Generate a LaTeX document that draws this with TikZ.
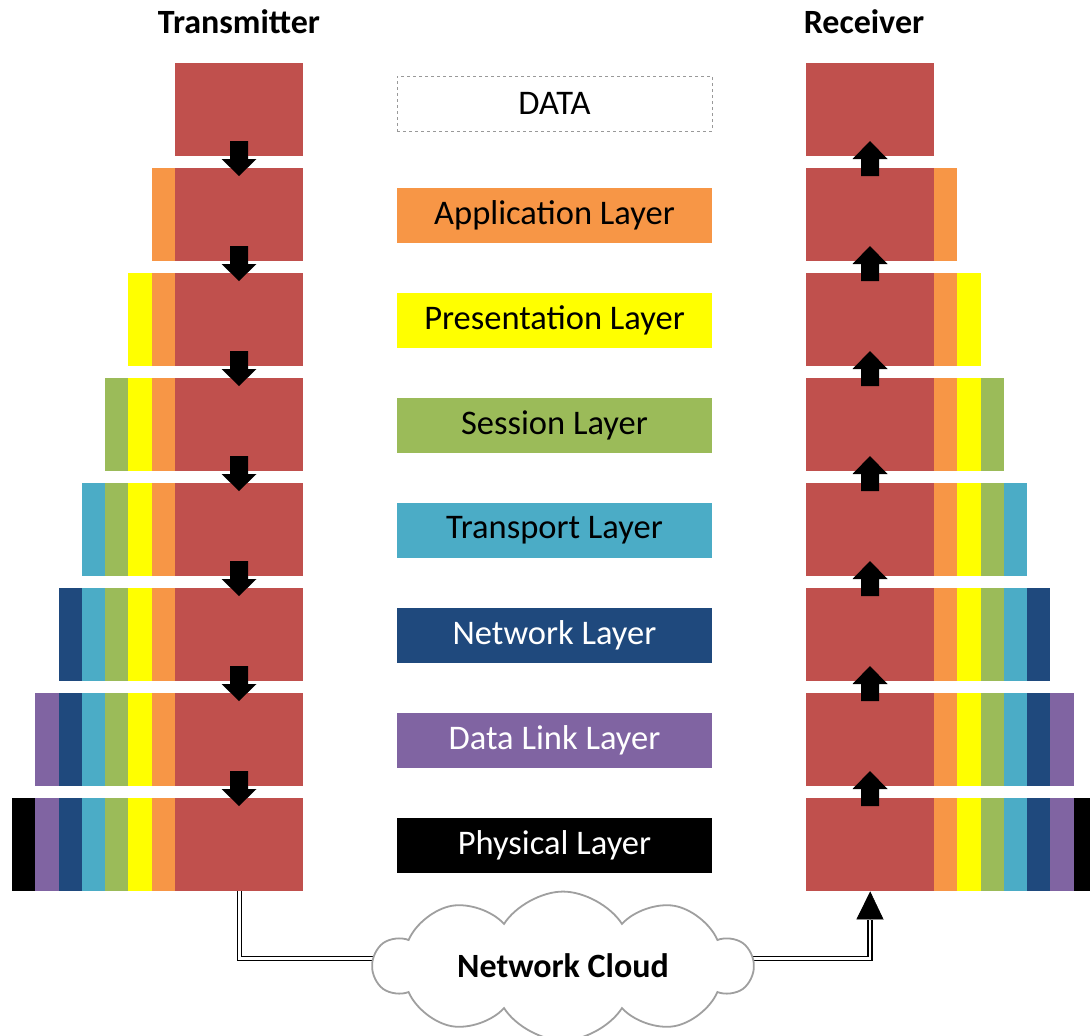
\documentclass[tikz,border=0pt]{standalone}
\usepackage{fontspec}
\setmainfont{Carlito}
\usetikzlibrary{shapes.symbols,arrows.meta}
\definecolor{cred}{HTML}{C0504D}
\definecolor{corange}{HTML}{F79646}
\definecolor{cyellow}{HTML}{FFFF00}
\definecolor{cgreen}{HTML}{9BBB59}
\definecolor{ccyan}{HTML}{4BACC6}
\definecolor{cnavy}{HTML}{1F497D}
\definecolor{cpurple}{HTML}{8064A2}
\definecolor{cblack}{HTML}{000000}
\begin{document}
\begin{tikzpicture}[x=1pt,y=-1pt,
  redblk/.style={fill=cred, minimum width=128pt, minimum height=93pt, inner sep=0pt, anchor=north west},
  lbl/.style={minimum width=315pt, minimum height=55pt, inner sep=0pt, font=\fontsize{34.5}{40}\selectfont},
  ttl/.style={font=\bfseries\fontsize{34}{40}\selectfont},
  darr/.pic={\fill[black] (-9,-15) -- (9,-15) -- (9,3) -- (17.5,3) -- (0,20) -- (-17.5,3) -- (-9,3) -- cycle;},
  uarr/.pic={\fill[black] (0,-15) -- (17.5,3) -- (9,3) -- (9,20) -- (-9,20) -- (-9,3) -- (-17.5,3) -- cycle;},
  dbl/.style={double, double distance=2.6pt, line width=1.3pt}
]
\clip (0,0) rectangle (1090,1036);
% stacks
\foreach \i in {0,...,7} {
  \pgfmathsetmacro\ty{63+105*\i}
  \node[redblk] (L\i) at (175,\ty) {};
  \node[redblk] (R\i) at (806,\ty) {};
}
\foreach \c [count=\j] in {corange,cyellow,cgreen,ccyan,cnavy,cpurple,cblack} {
  \foreach \i in {\j,...,7} {
    \pgfmathsetmacro\ty{63+105*\i}
    \fill[\c] ({175-23.29*\j},\ty) rectangle ++(23.29,93);
    \fill[\c] ({934+23.29*(\j-1)},\ty) rectangle ++(23.29,93);
  }
}
% block arrows
\foreach \i in {0,...,6} {
  \pgfmathsetmacro\by{156+105*\i}
  \pic at (239,\by) {darr};
  \pic at (870,\by) {uarr};
}
% titles
\node[ttl] (tx) at (239,22) {Transmitter};
\node[ttl] (rx) at (864,22) {Receiver};
% labels
\node[lbl, draw=gray!80, dashed, line width=0.7pt] (data) at (554.5,103.5) {DATA};
\foreach \c/\tc/\t [count=\k from 0] in {corange/black/Application Layer,cyellow/black/Presentation Layer,cgreen/black/Session Layer,ccyan/black/Transport Layer,cnavy/white/Network Layer,cpurple/white/Data Link Layer,cblack/white/Physical Layer} {
  \node[lbl, fill=\c, text=\tc] (lab\k) at (554.5,{215.5+105*\k}) {\t};
}
% connector
\coordinate (hb) at (870,920);
\draw[dbl] (L7.south) -- ++(0,67) -| (hb);
\draw[-{Triangle[width=27pt,length=28pt]}, line width=0.5pt] (hb) -- (R7.south);
% cloud
\node[cloud, cloud puffs=10, cloud puff arc=115, aspect=2.9, draw=gray!75, line width=1.8pt, fill=white,
      minimum width=378pt, minimum height=128pt, inner sep=0pt,
      font=\bfseries\fontsize{34}{40}\selectfont] (cloud) at (563,966) {Network Cloud};
\end{tikzpicture}
\end{document}
